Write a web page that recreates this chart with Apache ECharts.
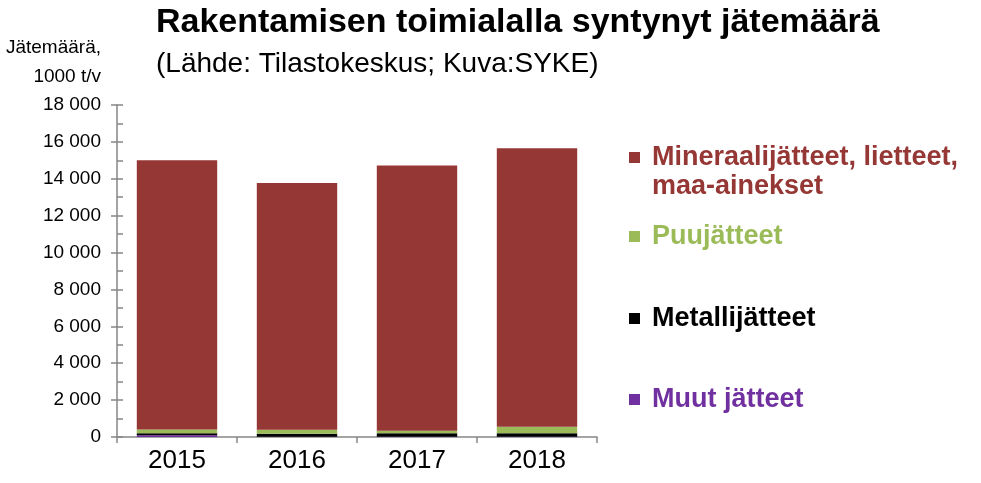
<!DOCTYPE html>
<html>
<head>
<meta charset="utf-8">
<script src="https://cdn.jsdelivr.net/npm/echarts@6/dist/echarts.min.js"></script>
<style>
  html, body { margin: 0; padding: 0; background: #fff; }
  #main { width: 981px; height: 483px; }
</style>
</head>
<body>
<div id="main"></div>
<script>
// vuodet
const years = ['2015', '2016', '2017', '2018']
// jätemäärät, 1000 t/v
const muut = [100, 20, 20, 20]
const metalli = [100, 160, 180, 180]
const puu = [200, 215, 145, 360]
const mineraali = [14600, 13370, 14375, 15100]

const yTicks = { min: 0, max: 18000, interval: 2000 }

const names = ['Mineraalijätteet, lietteet, maa-ainekset', 'Puujätteet', 'Metallijätteet', 'Muut jätteet']
const colors = ['#953735', '#9bbb59', '#000000', '#7030a0']

const FONT = 'Arial, "Liberation Sans", sans-serif'

let myChart = echarts.init(document.getElementById('main'))

// legenda: jokainen kohta erikseen, jotta välit vastaavat kuvaa
const legendTops = [144, 223, 305, 386]
const legends = names.map((n, i) => ({
  left: 629,
  top: legendTops[i],
  itemWidth: 11,
  itemHeight: 11,
  itemGap: 0,
  padding: 0,
  icon: 'rect',
  selectedMode: false,
  data: [n],
  formatter: name => name === names[0] ? 'Mineraalijätteet, lietteet,' : name,
  textStyle: {
    color: colors[i],
    fontFamily: FONT,
    fontWeight: 'bold',
    fontSize: 27,
    padding: [0, 0, 0, 7]
  }
}))

let option = {
  backgroundColor: '#fff',
  animation: false,
  title: {
    text: 'Rakentamisen toimialalla syntynyt jätemäärä',
    subtext: '(Lähde: Tilastokeskus; Kuva:SYKE)',
    left: 156,
    top: 5,
    padding: 0,
    itemGap: 7,
    textStyle: { fontFamily: FONT, fontWeight: 'bold', fontSize: 34, color: '#000', lineHeight: 36 },
    subtextStyle: { fontFamily: FONT, fontSize: 28, color: '#000', lineHeight: 32 }
  },
  legend: legends,
  graphic: [
    {
      type: 'text',
      left: 652,
      top: 173,
      style: {
        text: 'maa-ainekset',
        fill: colors[0],
        font: 'bold 27px ' + FONT
      }
    }
  ],
  grid: {
    left: 117,
    right: 384,
    top: 105,
    bottom: 46
  },
  xAxis: {
    type: 'category',
    data: years,
    axisLine: { lineStyle: { color: '#868686', width: 1.5 } },
    axisTick: { show: true, length: 6, lineStyle: { color: '#868686', width: 1.5 } },
    axisLabel: { color: '#000', fontFamily: FONT, fontSize: 26, margin: 11 }
  },
  yAxis: [
    {
      type: 'value',
      min: yTicks.min,
      max: yTicks.max,
      interval: yTicks.interval,
      name: 'Jätemäärä,\n1000 t/v',
      nameLocation: 'end',
      nameGap: 14,
      nameTextStyle: {
        fontFamily: FONT,
        fontSize: 19,
        color: '#000',
        align: 'right',
        verticalAlign: 'bottom',
        lineHeight: 29,
        padding: [0, 16, 0, 0]
      },
      axisLine: { show: true, lineStyle: { color: '#868686', width: 1.5 } },
      axisTick: { show: true, length: 6, lineStyle: { color: '#868686', width: 1.5 } },
      splitLine: { show: false },
      axisLabel: {
        color: '#000',
        fontFamily: FONT,
        fontSize: 19,
        margin: 16,
        formatter: v => String(v).replace(/\B(?=(\d{3})+(?!\d))/g, ' ')
      }
    },
    {
      // sisäpuoliset väliviivat 1000 välein
      type: 'value',
      position: 'left',
      min: yTicks.min,
      max: yTicks.max,
      interval: yTicks.interval / 2,
      axisLine: { show: false },
      axisTick: { show: true, inside: true, length: 6, lineStyle: { color: '#868686', width: 1.5 } },
      axisLabel: { show: false },
      splitLine: { show: false }
    }
  ],
  series: [
    { name: names[3], type: 'bar', stack: 'j', data: muut, itemStyle: { color: colors[3] }, barCategoryGap: '33%' },
    { name: names[2], type: 'bar', stack: 'j', data: metalli, itemStyle: { color: colors[2] } },
    { name: names[1], type: 'bar', stack: 'j', data: puu, itemStyle: { color: colors[1] } },
    { name: names[0], type: 'bar', stack: 'j', data: mineraali, itemStyle: { color: colors[0] } }
  ]
}
myChart.setOption(option)
</script>
</body>
</html>
